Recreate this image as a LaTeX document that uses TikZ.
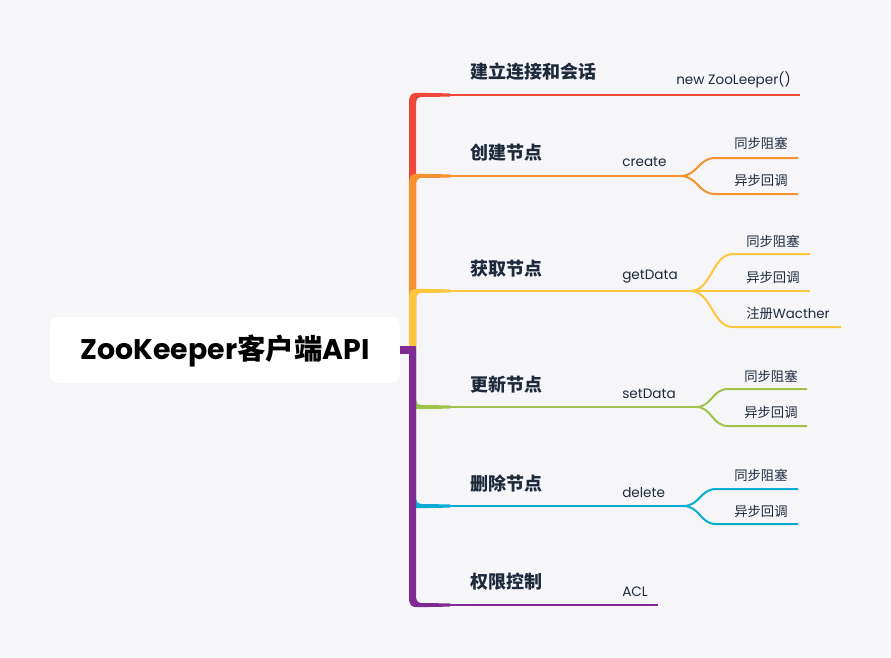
\documentclass[tikz,border=0pt]{standalone}
\usepackage{fontspec}
\usetikzlibrary{calc}
\newfontfamily\cjk{Noto Sans CJK SC}
\newfontfamily\lat{Poppins}
\definecolor{bg}{HTML}{F6F6F9}
\definecolor{cred}{HTML}{F0473B}
\definecolor{corange}{HTML}{F6922F}
\definecolor{cyellow}{HTML}{FEC63D}
\definecolor{cgreen}{HTML}{A1C24A}
\definecolor{ccyan}{HTML}{0AACD2}
\definecolor{cpurple}{HTML}{7F2B93}
\definecolor{txt}{HTML}{1E2A3B}
\tikzset{
  topic/.style={anchor=west, text=txt, font=\cjk\bfseries\fontsize{13.5pt}{15pt}\selectfont, inner sep=0pt},
  meth/.style={anchor=west, text=txt, font=\lat\fontsize{10.2pt}{12pt}\selectfont, inner sep=0pt},
  sub/.style={anchor=west, text=txt, font=\cjk\fontsize{10pt}{12pt}\selectfont, inner sep=0pt},
  thin/.style={line width=1.5pt, line cap=butt},
}
\newcommand\upbranch[2]{%
  \fill[#1] (409,350) -- (409,#2+8) .. controls (409,#2) and (411,#2-2.2) .. (418,#2-2.2) -- (450,#2-1.6) -- (450,#2+1.6) -- (422,#2+2) .. controls (418,#2+2) and (416,#2+4) .. (416,#2+9) -- (416,350) -- cycle;}
\newcommand\downbranch[2]{%
  \fill[#1] (409,350) -- (409,#2-8) .. controls (409,#2) and (411,#2+2.2) .. (418,#2+2.2) -- (450,#2+1.6) -- (450,#2-1.6) -- (422,#2-2) .. controls (418,#2-2) and (416,#2-4) .. (416,#2-9) -- (416,350) -- cycle;}
\begin{document}
\begin{tikzpicture}[x=0.75pt,y=-0.75pt]
\fill[bg] (0,0) rectangle (891,657);
\useasboundingbox (0,0) rectangle (891,657);

% root
\node[fill=white, rounded corners=6pt, minimum width=262.5pt, minimum height=49.5pt, inner sep=0pt] (root) at (225,350) {};
\node[font=\fontsize{21.3pt}{24pt}\selectfont\bfseries, text=black, inner sep=0pt] (roottext) at (225,351)
  {{\lat ZooKeeper}{\cjk 客户端}{\lat API}};

% branches (trunk)
\upbranch{cred}{95}
\upbranch{corange}{176}
\upbranch{cyellow}{291}
\downbranch{cgreen}{407}
\downbranch{ccyan}{506}
\downbranch{cpurple}{605}
\fill[cpurple] (400,346) -- (409,346) -- (409,354) -- (400,354) -- cycle;
\fill[cpurple] (409,346) rectangle (416,360);

% coordinates
\coordinate (r0) at (449,95);   \coordinate (r1) at (800,95);
\coordinate (o0) at (449,176);  \coordinate (os) at (680,176);
\coordinate (oa) at (715,158);  \coordinate (oa1) at (798,158);
\coordinate (ob) at (715,194);  \coordinate (ob1) at (798,194);
\coordinate (y0) at (449,291);  \coordinate (ys) at (690,291);
\coordinate (ya) at (733,254);  \coordinate (ya1) at (810,254);
\coordinate (yb) at (733,291);  \coordinate (yb1) at (810,291);
\coordinate (yc) at (733,327);  \coordinate (yc1) at (841,327);
\coordinate (g0) at (449,407);  \coordinate (gs) at (696,407);
\coordinate (ga) at (728,389);  \coordinate (ga1) at (807,389);
\coordinate (gb) at (728,426);  \coordinate (gb1) at (807,426);
\coordinate (c0) at (449,506);  \coordinate (cs) at (683,506);
\coordinate (ca) at (716,489);  \coordinate (ca1) at (798,489);
\coordinate (cb) at (716,524);  \coordinate (cb1) at (798,524);
\coordinate (p0) at (449,605);  \coordinate (p1) at (658,605);

\draw[thin, cred] (r0) -- (r1);
\draw[thin, corange] (o0) -- (os);
\draw[thin, corange] (os) .. controls ($(os)+(18,0)$) and ($(oa)+(-17,0)$) .. (oa) -- (oa1);
\draw[thin, corange] (os) .. controls ($(os)+(18,0)$) and ($(ob)+(-17,0)$) .. (ob) -- (ob1);
\draw[thin, cyellow] (y0) -- (yb1);
\draw[thin, cyellow] (ys) .. controls ($(ys)+(22,0)$) and ($(ya)+(-21,0)$) .. (ya) -- (ya1);
\draw[thin, cyellow] (ys) .. controls ($(ys)+(22,0)$) and ($(yc)+(-21,0)$) .. (yc) -- (yc1);
\draw[thin, cgreen] (g0) -- (gs);
\draw[thin, cgreen] (gs) .. controls ($(gs)+(16,0)$) and ($(ga)+(-16,0)$) .. (ga) -- (ga1);
\draw[thin, cgreen] (gs) .. controls ($(gs)+(16,0)$) and ($(gb)+(-16,0)$) .. (gb) -- (gb1);
\draw[thin, ccyan] (c0) -- (cs);
\draw[thin, ccyan] (cs) .. controls ($(cs)+(17,0)$) and ($(ca)+(-16,0)$) .. (ca) -- (ca1);
\draw[thin, ccyan] (cs) .. controls ($(cs)+(17,0)$) and ($(cb)+(-16,0)$) .. (cb) -- (cb1);
\draw[thin, cpurple] (p0) -- (p1);

% topic labels
\node[topic] (t1) at (470,72) {建立连接和会话};
\node[topic] (t2) at (470,153) {创建节点};
\node[topic] (t3) at (470,269) {获取节点};
\node[topic] (t4) at (470,385) {更新节点};
\node[topic] (t5) at (470,484) {删除节点};
\node[topic] (t6) at (470,582) {权限控制};

% method labels
\node[meth, anchor=east] (m1) at (791,80) {new ZooLeeper()};
\node[meth] (m2) at (622,162) {create};
\node[meth] (m3) at (622,277) {getData};
\node[meth] (m4) at (622,394) {setData};
\node[meth] (m5) at (622,493) {delete};
\node[meth] (m6) at (622,592) {ACL};

% sub labels
\node[sub] (s21) at (734,143) {同步阻塞};
\node[sub] (s22) at (734,180) {异步回调};
\node[sub] (s31) at (746,241) {同步阻塞};
\node[sub] (s32) at (746,277) {异步回调};
\node[sub] (s33) at (746,313) {注册{\lat Wacther}};
\node[sub] (s41) at (744,376) {同步阻塞};
\node[sub] (s42) at (744,412) {异步回调};
\node[sub] (s51) at (734,475) {同步阻塞};
\node[sub] (s52) at (734,511) {异步回调};
\end{tikzpicture}
\end{document}
